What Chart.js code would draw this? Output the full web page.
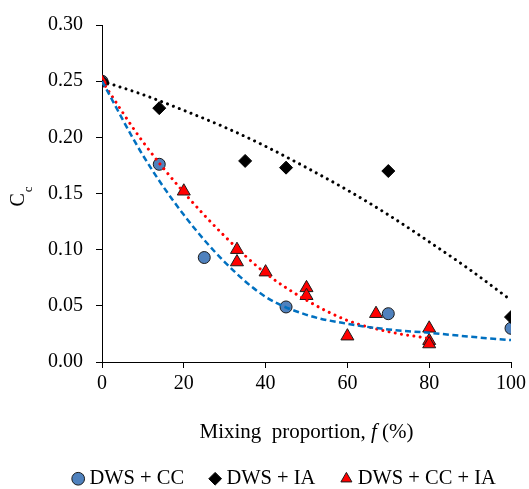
<!DOCTYPE html>
<html>
<head>
<meta charset="utf-8">
<title>Cc vs mixing proportion</title>
<script src="https://cdn.jsdelivr.net/npm/chart.js@4.4.1/dist/chart.umd.min.js"></script>
<style>
  html, body { margin: 0; padding: 0; background: #fff; }
  canvas { display: block; }
</style>
</head>
<body>
<canvas id="ccChart" width="529" height="489"></canvas>
<script>
const SERIF = "'Liberation Serif', 'Times New Roman', serif";

// measured points: mixing proportion f (%) and Cc
const ccF = [0, 14, 25, 45, 70, 100];
const ccVals = [0.250, 0.176, 0.093, 0.049, 0.043, 0.030];

const iaF = [0, 14, 35, 45, 70, 100];
const iaVals = [0.250, 0.226, 0.179, 0.173, 0.170, 0.040];

const mixF = [0, 20, 33, 33, 40, 50, 50, 60, 67, 80, 80, 80];
const mixVals = [0.250, 0.152, 0.100, 0.089, 0.080, 0.066, 0.059, 0.023, 0.043, 0.030, 0.019, 0.016];

// fitted trend curves, sampled every 10 %
const trendF = [0, 10, 20, 30, 40, 50, 60, 70, 80, 90, 100];
const ccTrend = [0.250, 0.184, 0.131, 0.089, 0.058, 0.042, 0.034, 0.029, 0.026, 0.0225, 0.0195];
const iaTrend = [0.250, 0.238, 0.224, 0.209, 0.192, 0.173, 0.153, 0.131, 0.107, 0.082, 0.055];
const mixTrend = [0.250, 0.196, 0.151, 0.112, 0.079, 0.055, 0.037, 0.027, 0.021];

const yTicks = [0, 0.05, 0.10, 0.15, 0.20, 0.25, 0.30];
const xTicks = [0, 20, 40, 60, 80, 100];

const pts = (xs, ys) => ys.map((y, i) => ({ x: xs[i], y }));

function trend(xs, ys, color, width, dash) {
  return {
    type: 'line',
    data: pts(xs, ys),
    borderColor: color,
    borderWidth: width,
    borderDash: dash,
    borderCapStyle: dash[0] < 1 ? 'round' : 'butt',
    pointRadius: 0,
    fill: false,
    showLine: true,
    cubicInterpolationMode: 'monotone',
    order: 1,
  };
}

// axis titles: Cc needs a subscript and f is italic, so draw them by hand
const axisTitles = {
  id: 'axisTitles',
  afterDraw(chart) {
    const { ctx, chartArea } = chart;
    const cy = (chartArea.top + chartArea.bottom) / 2;
    ctx.save();
    ctx.fillStyle = '#000';
    ctx.textBaseline = 'alphabetic';
    ctx.textAlign = 'left';
    ctx.translate(24, cy + 13);
    ctx.rotate(-Math.PI / 2);
    ctx.font = '20px ' + SERIF;
    ctx.fillText('C', 0, 0);
    const cw = ctx.measureText('C').width;
    ctx.font = '13px ' + SERIF;
    ctx.fillText('c', cw + 1, 8);
    ctx.restore();

    ctx.save();
    ctx.fillStyle = '#000';
    ctx.textBaseline = 'alphabetic';
    ctx.textAlign = 'left';
    const parts = [
      ['Mixing  proportion, ', '21px ' + SERIF],
      ['f', 'italic 21px ' + SERIF],
      [' (%)', '21px ' + SERIF],
    ];
    let total = 0;
    parts.forEach(p => { ctx.font = p[1]; total += ctx.measureText(p[0]).width; });
    let x = (chartArea.left + chartArea.right) / 2 - total / 2;
    parts.forEach(p => {
      ctx.font = p[1];
      ctx.fillText(p[0], x, 438);
      x += ctx.measureText(p[0]).width;
    });
    ctx.restore();
  },
};

new Chart(document.getElementById('ccChart'), {
  type: 'scatter',
  data: {
    datasets: [
      {
        label: 'DWS + CC',
        data: pts(ccF, ccVals),
        pointStyle: 'circle',
        pointRadius: 6,
        backgroundColor: '#4F81BD',
        borderColor: '#1a1a1a',
        borderWidth: 1,
        order: 4,
      },
      {
        label: 'DWS + IA',
        data: pts(iaF, iaVals),
        pointStyle: 'rectRot',
        pointRadius: 6.5,
        backgroundColor: '#000',
        borderColor: '#000',
        borderWidth: 1,
        order: 3,
      },
      {
        label: 'DWS + CC + IA',
        data: pts(mixF, mixVals),
        pointStyle: 'triangle',
        pointRadius: 7.5,
        backgroundColor: '#FF0000',
        borderColor: '#1a1a1a',
        borderWidth: 1,
        order: 2,
      },
      trend(trendF, ccTrend, '#0070C0', 2.5, [6, 3.5]),
      trend(trendF, iaTrend, '#000', 3, [0.01, 6.3]),
      trend(trendF.slice(0, mixTrend.length), mixTrend, '#FF0000', 3, [0.01, 6.3]),
    ],
  },
  options: {
    responsive: false,
    animation: false,
    layout: { padding: { left: 44, right: 0, top: 22, bottom: -10 } },
    plugins: {
      tooltip: { enabled: false },
      legend: {
        position: 'bottom',
        labels: {
          usePointStyle: true,
          boxWidth: 2,
          boxHeight: 9,
          padding: 30,
          color: '#000',
          font: { family: SERIF, size: 20.5 },
          filter: item => item.datasetIndex < 3,
          sort: (a, b) => a.datasetIndex - b.datasetIndex,
        },
      },
    },
    scales: {
      x: {
        type: 'linear',
        min: 0,
        max: 100,
        afterBuildTicks: s => { s.ticks = xTicks.map(v => ({ value: v })); },
        afterFit: s => { s.height = 76.5; s.paddingRight = 18; },
        ticks: { color: '#000', padding: 4, font: { family: SERIF, size: 20 } },
        grid: { drawOnChartArea: false, tickLength: 6, color: '#000', tickColor: '#000' },
        border: { color: '#000', width: 1 },
      },
      y: {
        min: 0,
        max: 0.3,
        afterBuildTicks: s => { s.ticks = yTicks.map(v => ({ value: v })); },
        afterFit: s => { s.width = 58; },
        ticks: {
          color: '#000',
          padding: 13,
          font: { family: SERIF, size: 20 },
          callback: v => v.toFixed(2),
        },
        grid: { drawOnChartArea: false, tickLength: 6, color: '#000', tickColor: '#000' },
        border: { color: '#000', width: 1 },
      },
    },
  },
  plugins: [axisTitles],
});
</script>
</body>
</html>
